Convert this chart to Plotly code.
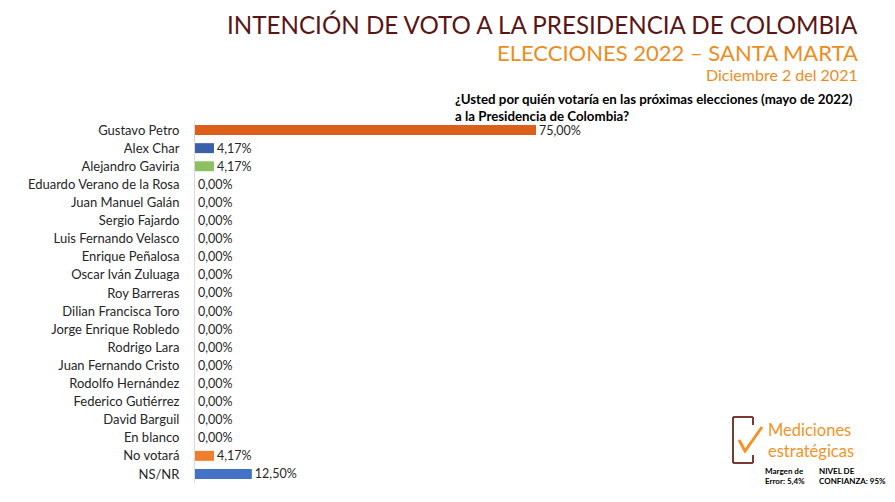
import plotly.graph_objects as go

categories = ["Gustavo Petro", "Alex Char", "Alejandro Gaviria", "Eduardo Verano de la Rosa",
              "Juan Manuel Galán", "Sergio Fajardo", "Luis Fernando Velasco", "Enrique Peñalosa",
              "Oscar Iván Zuluaga", "Roy Barreras", "Dilian Francisca Toro", "Jorge Enrique Robledo",
              "Rodrigo Lara", "Juan Fernando Cristo", "Rodolfo Hernández", "Federico Gutiérrez",
              "David Barguil", "En blanco", "No votará", "NS/NR"]
values = [75.00, 4.17, 4.17, 0, 0, 0, 0, 0, 0, 0, 0, 0, 0, 0, 0, 0, 0, 0, 4.17, 12.50]
bar_colors = ["#DC5F1C", "#3C5FA8", "#8CC063"] + ["#4472C4"] * 15 + ["#F07E2E", "#4472C4"]
labels = [f"{v:.2f}".replace(".", ",") + "%" for v in values]

# page has an 8px body margin: figure drawn from (8, 8)
OFF = 8
W, H = 895 - OFF, 502 - OFF
PL, PT, PR, PB = 195, 121, 877, 483   # plot area in page pixels
L, T = PL - OFF, PT - OFF
R, B = (W + OFF) - PR, (H + OFF) - PB
pw, ph = PR - PL, PB - PT

def px(x):
    return (x - PL) / pw

def py(y):
    return (PB - y) / ph

fig = go.Figure(go.Bar(
    x=values, y=categories, orientation="h",
    marker=dict(color=bar_colors, line=dict(width=0)),
    width=0.55,
    text=labels, textposition="outside", cliponaxis=False, constraintext="none",
    textfont=dict(size=12.5, color="#262626", family="Lato"),
))

font = "Lato"
ann = []
def add(text, x, y, size, color, xanchor="left", fam=font, align="left"):
    ann.append(dict(text=text, x=px(x), y=py(y), xref="paper", yref="paper",
                    xanchor=xanchor, yanchor="middle", align=align, showarrow=False,
                    font=dict(size=size, color=color, family=fam)))

add("INTENCIÓN DE VOTO A LA PRESIDENCIA DE COLOMBIA", 860, 24, 24.2, "#5A1616", "right")
add("ELECCIONES 2022 – SANTA MARTA", 860, 52, 22, "#EE8C1E", "right")
add("Diciembre 2 del 2021", 860, 74, 16, "#EE8C1E", "right")
add("<b>¿Usted por quién votaría en las próximas elecciones (mayo de 2022)<br>a la Presidencia de Colombia?</b>",
    453, 108, 13.3, "#000000")
add("Mediciones<br>estratégicas", 766, 440, 16.5, "#F39325")
add("<b>Margen de<br>Error: 5,4%</b>", 763, 476, 8, "#000000")
add("<b>NIVEL DE<br>CONFIANZA: 95%</b>", 817, 476, 8, "#000000")

shapes = []
brown = "#7A3A36"
for (x0, y0, x1, y1) in [(733, 417, 733, 463), (733, 417, 753, 417), (733, 463, 753, 463),
                         (753, 417, 753, 425), (753, 455, 753, 463)]:
    shapes.append(dict(type="line", xref="paper", yref="paper", x0=px(x0), y0=py(y0), x1=px(x1), y1=py(y1),
                       line=dict(color=brown, width=2)))
shapes.append(dict(type="path", xref="paper", yref="paper",
                   path=f"M {px(739)} {py(440)} L {px(745)} {py(451)} L {px(762)} {py(427)}",
                   line=dict(color="#F39325", width=3)))

fig.update_layout(
    width=W, height=H,
    margin=dict(l=L, r=R, t=T, b=B, autoexpand=False),
    paper_bgcolor="white", plot_bgcolor="white",
    showlegend=False,
    xaxis=dict(range=[0, 150], visible=False, fixedrange=True),
    yaxis=dict(autorange="reversed", showline=True, linecolor="#D9D9D9", linewidth=1,
               ticks="", showgrid=False, ticklabelstandoff=12, automargin=False,
               tickfont=dict(size=13, color="#262626", family=font)),
    annotations=ann, shapes=shapes,
    font=dict(family=font),
)

fig.write_html("out.html")
